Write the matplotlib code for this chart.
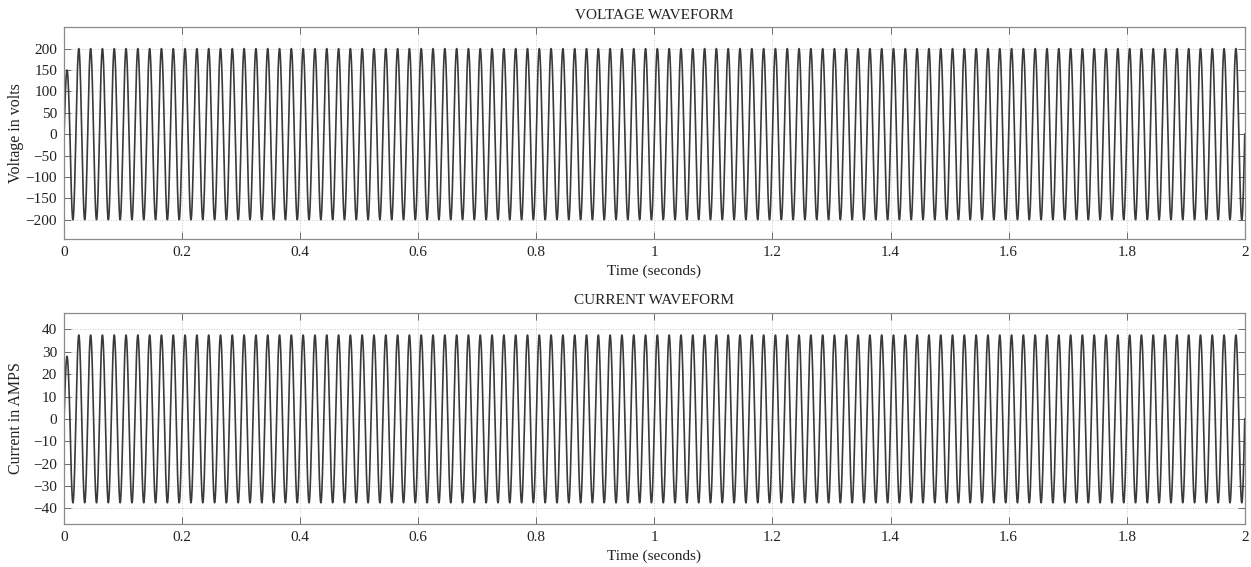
import numpy as np
import matplotlib
matplotlib.use("Agg")
import matplotlib.pyplot as plt

# waveform parameters
T_END = 2.0            # seconds shown
FREQ_HZ = 50           # ~100 cycles across 2 s
V_PEAK = 200           # steady voltage amplitude (V)
V_FIRST_PEAK = 150     # first half-cycle only reaches ~150 V
I_PEAK = 37.5          # steady current amplitude (A)
I_FIRST_PEAK = 28      # first half-cycle only reaches ~28 A

x_ticks = [0, 0.2, 0.4, 0.6, 0.8, 1, 1.2, 1.4, 1.6, 1.8, 2]
x_tick_labels = ["0", "0.2", "0.4", "0.6", "0.8", "1", "1.2", "1.4", "1.6", "1.8", "2"]
v_ticks = [-200, -150, -100, -50, 0, 50, 100, 150, 200]
i_ticks = [-40, -30, -20, -10, 0, 10, 20, 30, 40]

plt.rcParams["font.family"] = ["Liberation Serif", "DejaVu Serif"]
plt.rcParams["axes.unicode_minus"] = True

t = np.linspace(0, T_END, 40001)
half = t < 0.5 / FREQ_HZ
s = np.sin(2 * np.pi * FREQ_HZ * t)
voltage = np.where(half, V_FIRST_PEAK, V_PEAK) * s
current = np.where(half, I_FIRST_PEAK, I_PEAK) * s

fig = plt.figure(figsize=(12.51, 5.67), dpi=100)
ax1 = fig.add_axes([0.0512, 0.5785, 0.9438, 0.3735])
ax2 = fig.add_axes([0.0512, 0.0758, 0.9438, 0.3727])


def style(ax, yticks, ylim, title, ylabel):
    ax.set_xlim(0, T_END)
    ax.set_ylim(*ylim)
    ax.set_xticks(x_ticks)
    ax.set_xticklabels(x_tick_labels)
    ax.set_yticks(yticks)
    ax.tick_params(direction="in", length=5, width=0.6, color="#555555",
                   top=True, right=True, labelsize=11, pad=5, labelcolor="#222222")
    ax.grid(True, color="#c8c8c8", linestyle=":", linewidth=0.7)
    for sp in ax.spines.values():
        sp.set_color("#8a8a8a")
        sp.set_linewidth(0.9)
    ax.set_title(title, fontsize=11, pad=6, color="#222222")
    ax.set_xlabel("Time (seconds)", fontsize=11, labelpad=4, color="#222222")
    ax.set_ylabel(ylabel, fontsize=11.5, color="#222222")
    ax.yaxis.set_label_coords(-0.034, 0.5)


ax1.plot(t, voltage, color="#3a3a3a", linewidth=1.2)
style(ax1, v_ticks, (-245, 250), "VOLTAGE WAVEFORM", "Voltage in volts")

ax2.plot(t, current, color="#3a3a3a", linewidth=1.2)
style(ax2, i_ticks, (-47, 47.5), "CURRENT WAVEFORM", "Current in AMPS")

fig.savefig("out.png", dpi=100, facecolor="white")
